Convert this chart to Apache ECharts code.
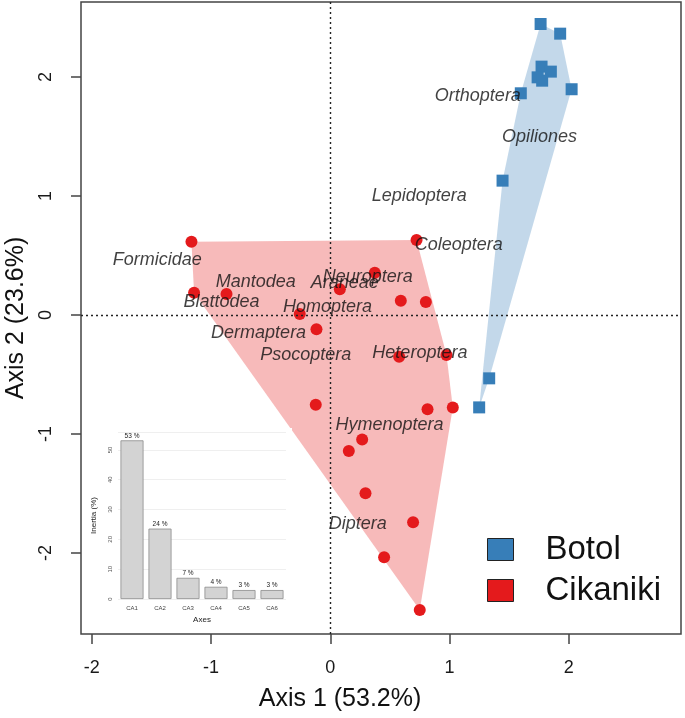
<!DOCTYPE html>
<html>
<head>
<meta charset="utf-8">
<script src="https://cdn.jsdelivr.net/npm/echarts@6/dist/echarts.min.js"></script>
<style>
  html, body { margin: 0; padding: 0; background: #fff; }
  #chart { width: 685px; height: 718px; }
</style>
</head>
<body>
<div id="chart"></div>
<script>
// CA site scores
const botolX = [1.763, 1.927, 1.771, 1.849, 1.738, 1.776, 1.597, 2.023, 1.444, 1.332, 1.248];
const botolY = [2.445, 2.364, 2.087, 2.045, 1.997, 1.969, 1.863, 1.897, 1.129, -0.532, -0.776];

const cikanikiX = [-1.164, 0.723, 0.373, 0.080, -1.142, -0.870, 0.591, 0.801, -0.256, -0.116, 0.577,
  0.974, -0.122, 0.815, 1.027, 0.267, 0.155, 0.295, 0.694, 0.451, 0.750];
const cikanikiY = [0.616, 0.630, 0.355, 0.216, 0.187, 0.176, 0.120, 0.109, 0.008, -0.120, -0.350,
  -0.336, -0.754, -0.792, -0.776, -1.045, -1.143, -1.498, -1.742, -2.036, -2.479];

// taxa (column) positions
const taxa = ['Orthoptera', 'Opiliones', 'Lepidoptera', 'Coleoptera', 'Formicidae', 'Mantodea',
  'Neuroptera', 'Araneae', 'Blattodea', 'Homoptera', 'Dermaptera', 'Psocoptera', 'Heteroptera',
  'Hymenoptera', 'Diptera'];
const taxaX = [1.237, 1.754, 0.746, 1.077, -1.451, -0.625, 0.314, 0.122, -0.912, -0.023, -0.601,
  -0.205, 0.751, 0.496, 0.231];
const taxaY = [1.840, 1.498, 1.000, 0.588, 0.462, 0.280, 0.317, 0.266, 0.112, 0.065, -0.149,
  -0.336, -0.322, -0.924, -1.756];

// scree inset
const dims = ['CA1', 'CA2', 'CA3', 'CA4', 'CA5', 'CA6'];
const inertia = [53.2, 23.6, 7.1, 4.1, 3.0, 3.0];

const axisTicks = [-2, -1, 0, 1, 2];
const inertiaTicks = [0, 10, 20, 30, 40, 50];

const FONT = 'Liberation Sans, Arial, sans-serif';
const BLUE = '#377eb8';
const RED = '#e41a1c';

function zip(xs, ys) {
  return xs.map((x, i) => [x, ys[i]]);
}

// monotone chain convex hull
function hull(points) {
  const p = points.slice().sort((a, b) => a[0] - b[0] || a[1] - b[1]);
  const cross = (o, a, b) => (a[0] - o[0]) * (b[1] - o[1]) - (a[1] - o[1]) * (b[0] - o[0]);
  const lower = [];
  for (const pt of p) {
    while (lower.length >= 2 && cross(lower[lower.length - 2], lower[lower.length - 1], pt) <= 0) lower.pop();
    lower.push(pt);
  }
  const upper = [];
  for (let i = p.length - 1; i >= 0; i--) {
    const pt = p[i];
    while (upper.length >= 2 && cross(upper[upper.length - 2], upper[upper.length - 1], pt) <= 0) upper.pop();
    upper.push(pt);
  }
  upper.pop();
  lower.pop();
  return lower.concat(upper);
}

function hullSeries(points, fill) {
  const h = hull(points);
  return {
    type: 'custom',
    xAxisIndex: 0,
    yAxisIndex: 0,
    z: 1,
    silent: true,
    data: h,
    renderItem: function (params, api) {
      if (params.dataIndex !== 0) return null;
      return {
        type: 'polygon',
        shape: { points: h.map(pt => api.coord(pt)) },
        style: { fill: fill, stroke: null }
      };
    }
  };
}

const botol = zip(botolX, botolY);
const cikaniki = zip(cikanikiX, cikanikiY);

const chart = echarts.init(document.getElementById('chart'), null, { renderer: 'canvas' });

chart.setOption({
  animation: false,
  backgroundColor: '#fff',
  textStyle: { fontFamily: FONT },
  grid: [
    { left: 81, right: 4, top: 2, bottom: 84, outerBoundsMode: 'none', containLabel: false,
      show: true, borderColor: '#444', borderWidth: 1.5 },
    { left: 118, right: 399, top: 432, bottom: 119, outerBoundsMode: 'none', containLabel: false }
  ],
  xAxis: [
    {
      type: 'value', gridIndex: 0, min: -2.09, max: 2.94,
      axisLine: { show: false, onZero: false },
      axisTick: { show: true, customValues: axisTicks, length: 10, lineStyle: { color: '#444', width: 1.5 } },
      axisLabel: { customValues: axisTicks, fontSize: 18, color: '#1a1a1a', margin: 25 },
      splitLine: { show: false }
    },
    {
      type: 'category', gridIndex: 1, data: dims, z: 20,
      axisLine: { show: false }, axisTick: { show: false },
      axisLabel: { fontSize: 6, color: '#444', margin: 6 },
      name: 'Axes', nameLocation: 'middle', nameGap: 17,
      nameTextStyle: { fontSize: 8, color: '#222' }
    }
  ],
  yAxis: [
    {
      type: 'value', gridIndex: 0, min: -2.68, max: 2.63,
      axisLine: { show: false, onZero: false },
      axisTick: { show: true, customValues: axisTicks, length: 10, lineStyle: { color: '#444', width: 1.5 } },
      axisLabel: { customValues: axisTicks, fontSize: 18, color: '#1a1a1a', margin: 26, rotate: 90 },
      splitLine: { show: false },
      name: 'Axis 2 (23.6%)', nameLocation: 'middle', nameGap: 48, nameRotate: 90,
      nameTextStyle: { fontSize: 25, color: '#111' }
    },
    {
      type: 'value', gridIndex: 1, min: 0, max: 56, z: 20,
      axisLine: { show: false }, axisTick: { show: false },
      axisLabel: { customValues: inertiaTicks, fontSize: 6, color: '#555', rotate: 90, margin: 5 },
      splitLine: { show: true, lineStyle: { color: '#ebebeb', width: 0.8 } },
      name: 'Inertia (%)', nameLocation: 'middle', nameGap: 20, nameRotate: 90,
      nameTextStyle: { fontSize: 8, color: '#222' }
    }
  ],
  legend: {
    orient: 'vertical',
    left: 482,
    top: 528,
    itemWidth: 26,
    itemHeight: 22,
    itemGap: 8,
    icon: 'rect',
    data: ['Botol', 'Cikaniki'],
    itemStyle: { borderColor: '#222', borderWidth: 1 },
    textStyle: { fontSize: 33, color: '#111', fontFamily: FONT, padding: [0, 0, 0, 27] },
    selectedMode: false
  },
  graphic: [
    {
      type: 'rect', z: 10, silent: true,
      shape: { x: 86, y: 428, width: 206, height: 202 },
      style: { fill: '#fff' }
    },
    {
      type: 'text', z: 10, silent: true,
      x: 340, y: 699,
      style: { text: 'Axis 1 (53.2%)', font: '25px ' + FONT, fill: '#111', align: 'center', verticalAlign: 'middle' }
    }
  ],
  series: [
    hullSeries(botol, 'rgba(55,126,184,0.3)'),
    hullSeries(cikaniki, 'rgba(228,26,28,0.3)'),
    {
      type: 'scatter', name: 'Botol', xAxisIndex: 0, yAxisIndex: 0, z: 3,
      symbol: 'rect', symbolSize: 12, data: botol,
      itemStyle: { color: BLUE, opacity: 1 },
      markLine: {
        silent: true, symbol: 'none', label: { show: false },
        lineStyle: { color: '#222', type: [2, 3], width: 1.4 },
        data: [{ xAxis: 0 }, { yAxis: 0 }]
      }
    },
    {
      type: 'scatter', name: 'Cikaniki', xAxisIndex: 0, yAxisIndex: 0, z: 3,
      symbol: 'circle', symbolSize: 12, data: cikaniki,
      itemStyle: { color: RED, opacity: 1 }
    },
    {
      type: 'scatter', name: 'taxa', xAxisIndex: 0, yAxisIndex: 0, z: 4,
      symbolSize: 0, silent: true,
      data: taxa.map((t, i) => ({ name: t, value: [taxaX[i], taxaY[i]] })),
      label: {
        show: true, position: 'inside', formatter: '{b}',
        fontSize: 18, fontStyle: 'italic', color: '#111', fontFamily: FONT
      }
    },
    {
      type: 'bar', name: 'inertia', xAxisIndex: 1, yAxisIndex: 1, z: 20,
      data: inertia, barWidth: 23,
      itemStyle: { color: '#d3d3d3', borderColor: '#8c8c8c', borderWidth: 0.8 },
      label: {
        show: true, position: 'top', distance: 1,
        formatter: p => Math.round(p.value) + ' %',
        fontSize: 6.5, color: '#222'
      }
    }
  ]
});
</script>
</body>
</html>
